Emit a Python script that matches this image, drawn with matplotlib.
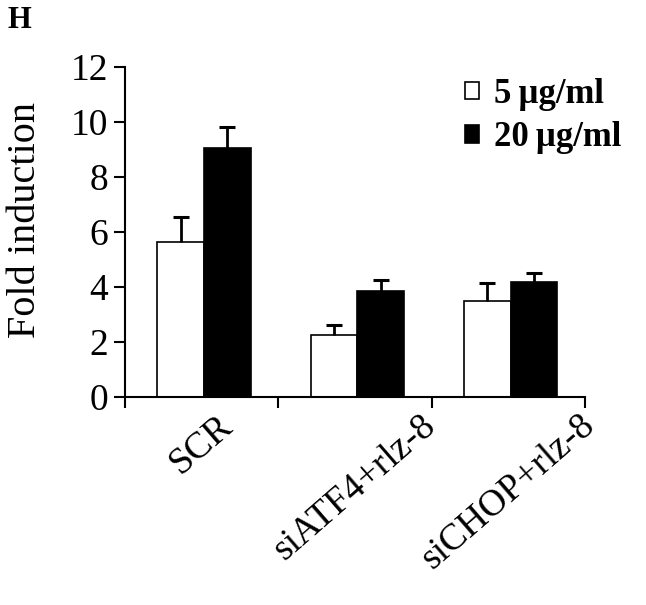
import numpy as np
import matplotlib.pyplot as plt

# data
groups = ['SCR', 'siATF4+rlz-8', 'siCHOP+rlz-8']
low_dose = [5.65, 2.25, 3.5]
low_err = [0.88, 0.37, 0.66]
high_dose = [9.07, 3.87, 4.19]
high_err = [0.76, 0.38, 0.31]
series_names = ['5\u2009\u00b5g/ml', '20\u2009\u00b5g/ml']

plt.rcParams['font.family'] = ['Liberation Serif', 'DejaVu Serif']

fig = plt.figure(figsize=(6.46, 6.05), dpi=100)
ax = fig.add_axes([0.1935, 0.3438, 0.712, 0.5455])

x = np.arange(len(groups))
w = 0.305
pos_low = x - w / 2 + 0.015
pos_high = x + w / 2 + 0.015

ax.bar(pos_low, low_dose, w, color='white', edgecolor='black', linewidth=1.2,
       label=series_names[0])
ax.bar(pos_high, high_dose, w, color='black', edgecolor='black', linewidth=1.2,
       label=series_names[1])

# upward-only error bars with a cap on top
for pos, val, err in [(pos_low, low_dose, low_err), (pos_high, high_dose, high_err)]:
    val = np.array(val)
    err = np.array(err)
    ax.errorbar(pos, val, yerr=[np.zeros(len(val)), err], fmt='none',
                ecolor='black', elinewidth=2, capsize=0)
    ax.plot(pos, val + err, linestyle='none', marker='_', markersize=12,
            markeredgewidth=2.2, color='black')

ax.set_xlim(-0.5, 2.5)
ax.set_ylim(0, 12)
ax.set_yticks(range(0, 13, 2))
ax.set_xticks(x)
ax.set_xticklabels(groups, rotation=41, ha='center', va='top', fontsize=27)
ax.set_xticks(np.arange(-0.5, 3.0, 1.0), minor=True)
ax.tick_params(axis='x', which='major', length=0, pad=8)
ax.tick_params(axis='x', which='minor', length=8, width=1.5, direction='out')
ax.tick_params(axis='y', length=8, width=1.5, direction='out', labelsize=27, pad=4)

for s in ['top', 'right']:
    ax.spines[s].set_visible(False)
for s in ['left', 'bottom']:
    ax.spines[s].set_linewidth(1.5)

ax.set_ylabel('Fold induction', fontsize=29)
ax.yaxis.set_label_coords(-0.177, 0.535)

ax.legend(loc='upper right', bbox_to_anchor=(1.125, 1.03), frameon=False,
          prop={'weight': 'bold', 'size': 25}, handlelength=0.4, handleheight=0.4,
          handletextpad=0.45, labelspacing=0.3, borderaxespad=0.2)

fig.text(0.012, 0.99, 'H', fontsize=22, fontweight='bold', va='top', ha='left')

fig.savefig('out.png', dpi=100)
